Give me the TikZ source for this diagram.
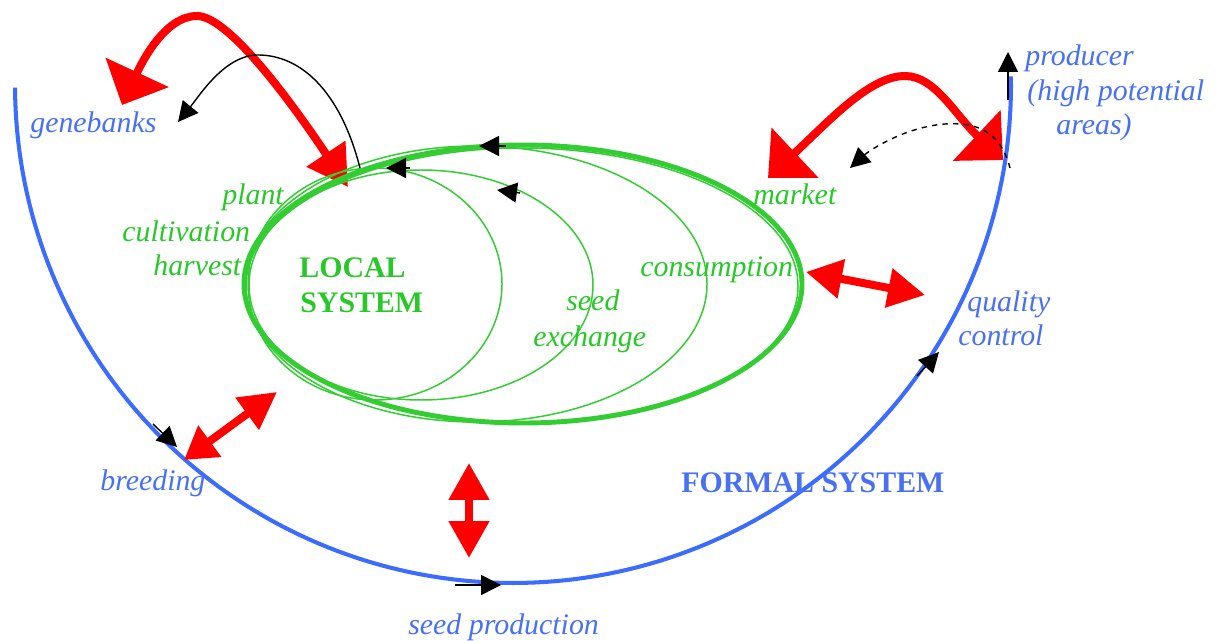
\documentclass[tikz,border=0pt]{standalone}
\usepackage{fontspec}
\setmainfont{Liberation Serif}
\usetikzlibrary{arrows.meta}
\definecolor{formalblue}{RGB}{59,107,255}
\definecolor{formaltext}{RGB}{72,112,245}
\definecolor{localgreen}{RGB}{51,204,51}
\definecolor{localtext}{RGB}{40,200,40}
\definecolor{flowred}{RGB}{255,0,0}
\begin{document}
\begin{tikzpicture}[x=0.02cm,y=-0.02cm,
  formalline/.style={formalblue,line width=2.3pt},
  localthick/.style={localgreen,line width=2.8pt},
  localthin/.style={localgreen,line width=0.85pt},
  redflow/.style={flowred,line width=0.16cm},
  blackflow/.style={black,line width=0.8pt,-{Triangle[length=0.4cm,width=0.4cm]}},
  formallabel/.style={formaltext,font=\fontsize{17pt}{20pt}\selectfont\itshape,inner sep=0pt,anchor=base west},
  locallabel/.style={localtext,font=\fontsize{17pt}{20pt}\selectfont\itshape,inner sep=0pt,anchor=base west},
  systemlabel/.style={font=\fontsize{17pt}{20pt}\selectfont\bfseries,inner sep=0pt,anchor=base west}]
\useasboundingbox (0,0) rectangle (1226,641);

% formal system: the large blue half circle
\draw[formalline] plot[domain=180.3:361,samples=150] ({513+498*cos(\x)},{85-498*sin(\x)});

% direction marks along the formal cycle
\coordinate (brTail) at (153,424);  \coordinate (brHead) at (177,447);
\coordinate (spTail) at (455,585);  \coordinate (spHead) at (501,585);
\coordinate (qcTail) at (917,376);  \coordinate (qcHead) at (939,352);
\coordinate (prTail) at (1008,100); \coordinate (prHead) at (1008,52);
\draw[blackflow] (brTail) -- (brHead);
\draw[blackflow] (spTail) -- (spHead);
\draw[blackflow] (qcTail) -- (qcHead);
\draw[blackflow] (prTail) -- (prHead);

% red exchanges between the two systems
\coordinate (gbTip) at (122,105);
\coordinate (gbPeak) at (197,16);
\coordinate (lsTip) at (348,187);
\draw[redflow,{Triangle[length=0.72cm,width=1.36cm]}-{Triangle[length=0.8cm,width=0.9cm]}]
  (gbTip) .. controls (142,62) and (165,16) .. (gbPeak)
          .. controls (228,16) and (290,100) .. (lsTip);

\coordinate (mkTip) at (768,178);
\coordinate (mkPeak) at (905,76);
\coordinate (prTip) at (1003,160);
\draw[redflow,{Triangle[length=0.74cm,width=1.34cm]}-{Triangle[length=0.72cm,width=1.36cm]}]
  (mkTip) .. controls (830,120) and (870,76) .. (mkPeak)
          .. controls (935,76) and (955,115) .. (prTip);

\coordinate (csTip) at (806,272); \coordinate (qcTip) at (925,295);
\draw[redflow,{Triangle[length=0.72cm,width=0.76cm]}-{Triangle[length=0.74cm,width=0.76cm]}] (csTip) -- (qcTip);

\coordinate (bdTip) at (184,460); \coordinate (lcTip) at (277,392);
\draw[redflow,{Triangle[length=0.64cm,width=0.74cm]}-{Triangle[length=0.74cm,width=0.76cm]}] (bdTip) -- (lcTip);

\coordinate (upTip) at (469,463); \coordinate (dnTip) at (469,558);
\draw[redflow,{Triangle[length=0.74cm,width=0.78cm]}-{Triangle[length=0.74cm,width=0.78cm]}] (upTip) -- (dnTip);

% local system: nested green cycles
\draw[localthin] (375,284) ellipse [x radius=127, y radius=116];
\draw[localthin] (421,285) ellipse [x radius=172, y radius=115];
\draw[localthin] (476,284) ellipse [x radius=231, y radius=138];
\draw[localthin] (522,286) ellipse [x radius=276, y radius=138];
\draw[localthick] (523,284) ellipse [x radius=279, y radius=139];

% direction marks on the local cycles
\coordinate (c1Tail) at (506,146); \coordinate (c1Head) at (479,146);
\coordinate (c2Tail) at (410,168); \coordinate (c2Head) at (386,168);
\coordinate (c3Tail) at (520,193); \coordinate (c3Head) at (497,190);
\draw[blackflow] (c1Tail) -- (c1Head);
\draw[blackflow] (c2Tail) -- (c2Head);
\draw[blackflow] (c3Tail) -- (c3Head);

% germplasm returning to the genebanks
\coordinate (lsTop) at (360,168);
\coordinate (gbArr) at (178,122);
\draw[blackflow] (lsTop) .. controls (340,90) and (300,55) .. (258,55)
                 .. controls (225,55) and (200,95) .. (gbArr);

% producer supplying the market
\coordinate (prStart) at (1010,168);
\coordinate (mkArr) at (850,168);
\draw[blackflow,dashed] (prStart) .. controls (1000,130) and (975,122) .. (945,124)
                 .. controls (905,127) and (870,150) .. (mkArr);

% labels of the formal system
\node[formallabel] (genebanks) at (30,133) {genebanks};
\node[formallabel] (breeding) at (100,490) {breeding};
\node[formallabel] (seedprod) at (408,634) {seed production};
\node[formallabel] (quality) at (967,312) {quality};
\node[formallabel] (control) at (958,346) {control};
\node[formallabel] (producer) at (1025,66) {producer};
\node[formallabel] (highpot) at (1027,101) {(high potential};
\node[formallabel] (areas) at (1056,135) {areas)};
\node[systemlabel,formaltext] (formal) at (681,492) {FORMAL SYSTEM};

% labels of the local system
\node[locallabel] (plant) at (222,205) {plant};
\node[locallabel] (cultivation) at (122,242) {cultivation};
\node[locallabel] (harvest) at (153,276) {harvest};
\node[systemlabel,localtext] (local) at (299,278) {LOCAL};
\node[systemlabel,localtext] (localsys) at (300,313) {SYSTEM};
\node[locallabel] (seed) at (566,311) {seed};
\node[locallabel] (exchange) at (533,347) {exchange};
\node[locallabel] (consumption) at (640,277) {consumption};
\node[locallabel] (market) at (753,205) {market};
\end{tikzpicture}
\end{document}
